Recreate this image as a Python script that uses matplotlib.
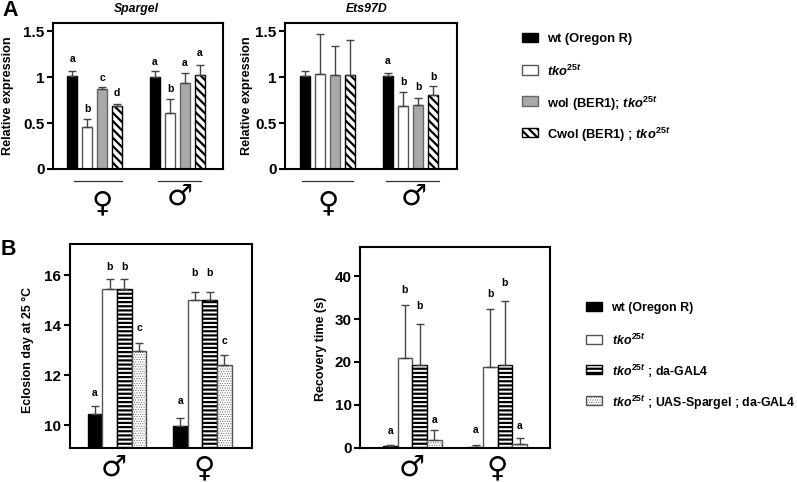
import numpy as np
import matplotlib
matplotlib.use("Agg")
import matplotlib.pyplot as plt
from matplotlib.patches import Rectangle

plt.rcParams['font.family'] = ['Liberation Sans', 'DejaVu Sans']
plt.rcParams['font.weight'] = 'bold'
plt.rcParams['axes.labelweight'] = 'bold'
plt.rcParams['axes.titleweight'] = 'bold'
plt.rcParams['mathtext.fontset'] = 'custom'
plt.rcParams['mathtext.it'] = 'Liberation Sans:italic:bold'
plt.rcParams['mathtext.rm'] = 'Liberation Sans:bold'
plt.rcParams['mathtext.default'] = 'regular'
plt.rcParams['hatch.linewidth'] = 1.6

W, H = 797, 482
TKO = r'$\mathit{tko}^{\mathit{25t}}$'

# panel A, Spargel
spargel_val = [1.01, 0.46, 0.87, 0.68, 1.00, 0.61, 0.93, 1.02]
spargel_err = [0.06, 0.08, 0.02, 0.03, 0.06, 0.15, 0.11, 0.11]
spargel_let = ['a', 'b', 'c', 'd', 'a', 'b', 'a', 'a']
spargel_lety = [1.20, 0.65, 0.99, 0.83, 1.16, 0.87, 1.15, 1.26]

# panel A, Ets97D
ets_val = [1.01, 1.03, 1.02, 1.02, 1.01, 0.69, 0.70, 0.80]
ets_err = [0.05, 0.44, 0.32, 0.38, 0.03, 0.15, 0.07, 0.10]
ets_let = ['', '', '', '', 'a', 'b', 'b', 'b']
ets_lety = [0, 0, 0, 0, 1.17, 0.95, 0.89, 1.00]

# panel B, eclosion
eclosion_val = [10.45, 15.45, 15.45, 12.98, 9.97, 15.0, 15.0, 12.43]
eclosion_err = [0.33, 0.40, 0.40, 0.32, 0.33, 0.32, 0.32, 0.39]
eclosion_let = ['a', 'b', 'b', 'c', 'a', 'b', 'b', 'c']
eclosion_lety = [11.29, 16.33, 16.33, 13.88, 10.97, 16.08, 16.08, 13.35]

# panel B, recovery
recovery_val = [0.3, 20.9, 19.4, 1.8, 0.2, 18.9, 19.3, 0.9]
recovery_err = [0.4, 12.5, 9.4, 2.2, 0.4, 13.5, 15.0, 1.3]
recovery_let = ['a', 'b', 'b', 'a', 'a', 'b', 'b', 'a']
recovery_lety = [3.75, 36.8, 33.0, 6.5, 4.1, 36.0, 38.5, 5.0]

legend_a = ['wt (Oregon R)', TKO, 'wol (BER1); ' + TKO, 'Cwol (BER1) ; ' + TKO]
legend_b = ['wt (Oregon R)', TKO, TKO + ' ; da-GAL4', TKO + ' ; UAS-Spargel ; da-GAL4']

style_a = [dict(facecolor='black', edgecolor='black'),
           dict(facecolor='white', edgecolor='#555555'),
           dict(facecolor='#a9a9a9', edgecolor='#666666'),
           dict(facecolor='white', edgecolor='black', hatch='\\\\\\\\')]
style_b = [dict(facecolor='black', edgecolor='black'),
           dict(facecolor='white', edgecolor='#555555'),
           dict(facecolor='white', edgecolor='black', hatch='----'),
           dict(facecolor='white', edgecolor='#555555', hatch='.......', hatch_linewidth=0.4)]


def make_axes(left, right, top, bottom):
    return fig.add_axes([left / W, 1 - bottom / H, (right - left) / W, (bottom - top) / H])


def draw_panel(ax, val, err, let, lety, styles, x0, dx, gap, width, letsize=7.5):
    # x is in pixels of the figure so the groups line up with the reference
    x = np.array([x0 + dx * i for i in range(4)] + [x0 + gap + dx * i for i in range(4)])
    for i in range(8):
        st = styles[i % 4]
        ax.bar(x[i], val[i], width=width, linewidth=1, **st)
        ax.errorbar(x[i], val[i], yerr=[[0], [err[i]]], color='#444444', elinewidth=1,
                    capsize=3.2, capthick=1, fmt='none')
        if let[i]:
            ax.text(x[i], lety[i], let[i], ha='center', va='center', fontsize=letsize)
    for s in ax.spines.values():
        s.set_linewidth(1.5)
    ax.set_xticks([])
    ax.tick_params(axis='y', length=4, width=1.5, labelsize=11, pad=2)


def symbol(s, x, y):
    fig.text(x / W, 1 - y / H, s, ha='center', va='center', fontsize=21,
             family='DejaVu Sans', fontweight='normal')


def rule(x1, x2, y):
    fig.add_artist(plt.Line2D([x1 / W, x2 / W], [1 - y / H, 1 - y / H], color='#333333', lw=0.9))


def key(labels, styles, x, ys, textx, size):
    for lab, st, y in zip(labels, styles, ys):
        fig.add_artist(Rectangle((x / W, 1 - (y + 4.5) / H), 15.5 / W, 9 / H,
                                 transform=fig.transFigure, linewidth=1, **st))
        fig.text(textx / W, 1 - y / H, lab, fontsize=size, ha='left', va='center_baseline')


fig = plt.figure(figsize=(W / 100, H / 100), dpi=100)

# Spargel
ax1 = make_axes(53, 223, 23, 169)
draw_panel(ax1, spargel_val, spargel_err, spargel_let, spargel_lety, style_a, 72.3, 15, 82.7, 10)
ax1.set_xlim(53, 223)
ax1.set_ylim(0, 1.587)
ax1.set_yticks([0, 0.5, 1, 1.5], ['0', '0.5', '1', '1.5'])
ax1.set_ylabel('Relative expression', fontsize=9.1, labelpad=6.5)
ax1.set_title('Spargel', fontsize=8.8, style='italic', pad=8, x=0.49)

# Ets97D
ax2 = make_axes(285, 456.5, 23, 169)
draw_panel(ax2, ets_val, ets_err, ets_let, ets_lety, style_a, 305.3, 15, 82.7, 10)
ax2.set_xlim(285, 456.5)
ax2.set_ylim(0, 1.587)
ax2.set_yticks([0, 0.5, 1, 1.5], ['0', '0.5', '1', '1.5'])
ax2.set_ylabel('Relative expression', fontsize=9.1, labelpad=1.5)
ax2.set_title('Ets97D', fontsize=8.8, style='italic', pad=8, x=0.476)

# Eclosion
ax3 = make_axes(69.5, 251.5, 243.5, 447.5)
draw_panel(ax3, eclosion_val, eclosion_err, eclosion_let, eclosion_lety, style_b, 95, 14.67, 85.3, 14.67)
ax3.set_xlim(69.5, 251.5)
ax3.set_ylim(9.11, 17.27)
ax3.set_yticks([10, 12, 14, 16])
ax3.set_ylabel('Eclosion day at 25 °C', fontsize=8.9, labelpad=7, y=0.478)

# Recovery
ax4 = make_axes(360, 550, 247, 447.5)
draw_panel(ax4, recovery_val, recovery_err, recovery_let, recovery_lety, style_b, 390.3, 14.67, 85.3, 14.67)
ax4.set_xlim(360, 550)
ax4.set_ylim(0, 46.9)
ax4.set_yticks([0, 10, 20, 30, 40])
ax4.set_ylabel('Recovery time (s)', fontsize=9, labelpad=5.5, y=0.49)

fig.text(2 / W, 1 - 11 / H, 'A', fontsize=15.5, ha='left', va='center')
fig.text(1 / W, 1 - 249 / H, 'B', fontsize=15.5, ha='left', va='center')

rule(74, 122, 181)
rule(158, 201, 181)
rule(301.7, 353, 181)
rule(386.3, 438.7, 181)

symbol('♀', 102, 203)
symbol('♂', 180, 197)
symbol('♀', 328, 203)
symbol('♂', 414, 197)
symbol('♂', 114, 468)
symbol('♀', 204, 468)
symbol('♂', 412, 468)
symbol('♀', 497, 468)

key(legend_a, style_a, 522, [37.5, 70, 101, 132.5], 547, 9.3)
key(legend_b, style_b, 586, [306, 339, 369.5, 400.5], 611.5, 8.9)

fig.savefig('out.png', dpi=100)
